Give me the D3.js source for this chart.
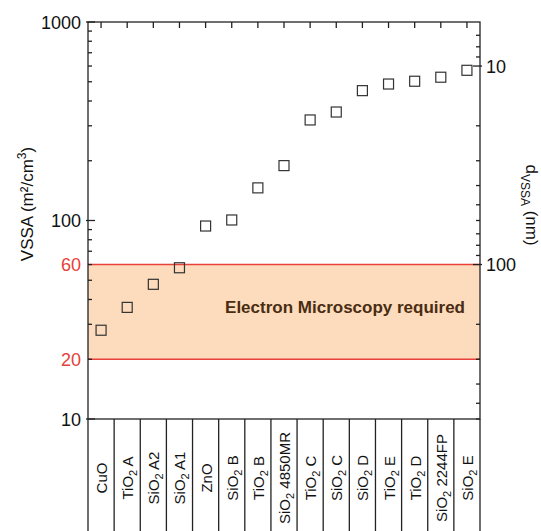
<!DOCTYPE html>
<html><head><meta charset="utf-8">
<script src="https://cdn.jsdelivr.net/npm/d3@7"></script>
<style>body{margin:0;background:#fff}svg{display:block;font-family:"Liberation Sans",Arial,sans-serif}</style>
</head><body><svg id="c" width="541" height="531"></svg>
<script>
const categories = [
  ["CuO",""],["TiO","2"," A"],["SiO","2"," A2"],["SiO","2"," A1"],["ZnO",""],
  ["SiO","2"," B"],["TiO","2"," B"],["SiO","2"," 4850MR"],["TiO","2"," C"],["SiO","2"," C"],
  ["SiO","2"," D"],["TiO","2"," E"],["TiO","2"," D"],["SiO","2"," 2244FP"],["SiO","2"," E"]
];
const vssa = [28, 36.5, 47.7, 57.8, 93.8, 100.6, 146, 189, 321, 352, 451, 487, 503, 527, 571];
const leftMajor = [10, 100, 1000];
const leftMinor = [20,30,40,50,60,70,80,90,200,300,400,500,600,700,800,900];
const redTicks = [20, 60];
const rightMajor = [10, 100];
const rightMinor = [7,8,9,20,30,40,50,60,70,80,90,200,300,400,500,600];
const band = [20, 60];
const bandLabel = "Electron Microscopy required";

const svg = d3.select("#c");
const L = 88, R = 480, T = 22, B = 419, BOT = 531;
const x = d3.scaleBand().domain(d3.range(categories.length)).range([L, R]);
const y = d3.scaleLog().domain([10, 1000]).range([B, T]);
const yR = d3.scaleLog().domain([6000/10, 6000/1000]).range([B, T]);

// band
svg.append("rect").attr("x", L).attr("width", R - L)
  .attr("y", y(band[1])).attr("height", y(band[0]) - y(band[1]))
  .attr("fill", "#fcdcbc");
band.forEach(v => svg.append("line").attr("x1", L).attr("x2", R)
  .attr("y1", y(v)).attr("y2", y(v)).attr("stroke", "#e8403a").attr("stroke-width", 1.6));
svg.append("text").attr("x", 465).attr("y", y(Math.sqrt(band[0]*band[1])) + 1)
  .attr("text-anchor", "end").attr("font-weight", "bold").attr("font-size", 17)
  .attr("fill", "#4a2c12").text(bandLabel);

// frame
svg.append("rect").attr("x", L).attr("y", T).attr("width", R - L).attr("height", B - T)
  .attr("fill", "none").attr("stroke", "#222").attr("stroke-width", 1.3);

const ax = svg.append("g").attr("stroke", "#222").attr("stroke-width", 1.3);
leftMajor.forEach(v => ax.append("line").attr("x1", L - 2).attr("x2", L + 7).attr("y1", y(v)).attr("y2", y(v)));
leftMinor.forEach(v => ax.append("line").attr("x1", L).attr("x2", L + 4).attr("y1", y(v)).attr("y2", y(v)));
rightMajor.forEach(v => ax.append("line").attr("x1", R + 2).attr("x2", R - 7).attr("y1", yR(v)).attr("y2", yR(v)));
rightMinor.forEach(v => ax.append("line").attr("x1", R).attr("x2", R - 4).attr("y1", yR(v)).attr("y2", yR(v)));
categories.forEach((c, i) => {
  const cx = x(i) + x.bandwidth()/2;
  ax.append("line").attr("x1", cx).attr("x2", cx).attr("y1", T).attr("y2", T + 6);
});
d3.range(categories.length + 1).forEach(i => {
  const xx = i < categories.length ? x(i) : R;
  ax.append("line").attr("x1", xx).attr("x2", xx).attr("y1", B).attr("y2", BOT);
});

// left labels
leftMajor.forEach(v => svg.append("text").attr("x", L - 7).attr("y", y(v) + 6.5)
  .attr("text-anchor", "end").attr("font-size", 18).attr("fill", "#111").text(v));
redTicks.forEach(v => svg.append("text").attr("x", L - 7).attr("y", y(v) + 6.5)
  .attr("text-anchor", "end").attr("font-size", 18).attr("fill", "#e8403a").text(v));
rightMajor.forEach(v => svg.append("text").attr("x", R + 6).attr("y", yR(v) + 6.5)
  .attr("font-size", 18).attr("fill", "#111").text(v));

// axis titles
const lt = svg.append("text").attr("transform", `translate(33,204) rotate(-90)`)
  .attr("text-anchor", "middle").attr("font-size", 17).attr("fill", "#111");
lt.append("tspan").text("VSSA (m²/cm");
lt.append("tspan").attr("dy", -7).attr("font-size", 12).text("3");
lt.append("tspan").attr("dy", 7).text(")");

const rt = svg.append("text").attr("transform", `translate(526,205) rotate(90)`)
  .attr("text-anchor", "middle").attr("font-size", 17).attr("fill", "#111");
rt.append("tspan").text("d");
rt.append("tspan").attr("dy", 5).attr("font-size", 12).text("VSSA");
rt.append("tspan").attr("dy", -5).text(" (nm)");

// category labels
categories.forEach((c, i) => {
  const cx = x(i) + x.bandwidth()/2 + 6;
  const t = svg.append("text").attr("transform", `translate(${cx},478) rotate(-90)`)
    .attr("text-anchor", "middle").attr("font-size", 15).attr("fill", "#111");
  t.append("tspan").text(c[0]);
  if (c[1]) {
    t.append("tspan").attr("dy", 4).attr("font-size", 11).text(c[1]);
    t.append("tspan").attr("dy", -4).text(c[2]);
  }
});

// points
svg.append("g").selectAll("rect").data(vssa).join("rect")
  .attr("x", (d, i) => x(i) + x.bandwidth()/2 - 5)
  .attr("y", d => y(d) - 5)
  .attr("width", 10).attr("height", 10)
  .attr("fill", "none").attr("stroke", "#333").attr("stroke-width", 1.2);
</script></body></html>
